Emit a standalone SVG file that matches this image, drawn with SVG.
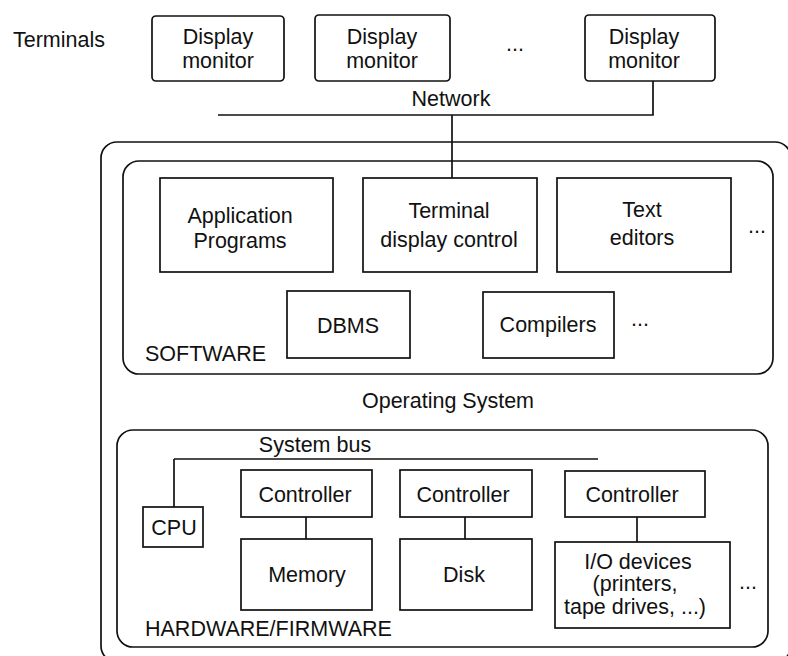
<svg xmlns="http://www.w3.org/2000/svg" width="788" height="656" viewBox="0 0 788 656">
  <style>
    .box { fill: none; stroke: #111; stroke-width: 1.7; }
    .wire { fill: none; stroke: #111; stroke-width: 1.7; }
    .t { font-family: "Liberation Sans", Arial, sans-serif; font-size: 21.5px; fill: #111; text-anchor: middle; }
    .l { text-anchor: start; }
  </style>
  <rect width="788" height="656" fill="#fff"/>

  <!-- terminals row -->
  <text class="t l" x="13" y="47">Terminals</text>
  <g id="display1">
    <rect class="box" x="152" y="16" width="132" height="65" rx="4"/>
    <text class="t" x="218" y="44">Display</text>
    <text class="t" x="218" y="68">monitor</text>
  </g>
  <g id="display2">
    <rect class="box" x="315" y="15" width="135" height="66" rx="4"/>
    <text class="t" x="382" y="44">Display</text>
    <text class="t" x="382" y="68">monitor</text>
  </g>
  <text class="t" x="515" y="51">...</text>
  <g id="display3">
    <rect class="box" x="585" y="15" width="130" height="66" rx="4"/>
    <text class="t" x="644" y="44">Display</text>
    <text class="t" x="644" y="68">monitor</text>
  </g>
  <g id="network">
    <text class="t" x="451" y="106">Network</text>
  </g>

  <!-- operating system enclosure -->
  <g id="operating-system">
    <rect class="box" x="101" y="142" width="690" height="520" rx="16"/>
    <text class="t" x="448" y="408">Operating System</text>
  </g>

  <!-- software layer -->
  <g id="software">
    <rect class="box" x="123" y="161" width="650" height="213" rx="16"/>
    <text class="t l" x="145" y="361">SOFTWARE</text>
  </g>
  <g id="application-programs">
    <rect class="box" x="160" y="178" width="173" height="94"/>
    <text class="t" x="240" y="223">Application</text>
    <text class="t" x="240" y="248">Programs</text>
  </g>
  <g id="terminal-display-control">
    <rect class="box" x="363" y="178" width="174" height="94"/>
    <text class="t" x="449" y="218">Terminal</text>
    <text class="t" x="449" y="247">display control</text>
  </g>
  <g id="text-editors">
    <rect class="box" x="557" y="178" width="174" height="94"/>
    <text class="t" x="642" y="217">Text</text>
    <text class="t" x="642" y="245">editors</text>
  </g>
  <text class="t" x="757" y="233">...</text>
  <g id="dbms">
    <rect class="box" x="287" y="291" width="123" height="67"/>
    <text class="t" x="348" y="333">DBMS</text>
  </g>
  <g id="compilers">
    <rect class="box" x="483" y="292" width="131" height="66"/>
    <text class="t" x="548" y="332">Compilers</text>
  </g>
  <text class="t" x="640" y="326">...</text>

  <!-- hardware layer -->
  <g id="hardware">
    <rect class="box" x="117" y="430" width="651" height="217" rx="16"/>
    <text class="t l" x="145" y="636">HARDWARE/FIRMWARE</text>
  </g>
  <g id="system-bus">
    <text class="t" x="315" y="452">System bus</text>
  </g>
  <g id="cpu">
    <rect class="box" x="143" y="507" width="60" height="40"/>
    <text class="t" x="174" y="535">CPU</text>
  </g>
  <g id="controller-memory">
    <rect class="box" x="241" y="470" width="131" height="47"/>
    <text class="t" x="305" y="502">Controller</text>
  </g>
  <g id="memory">
    <rect class="box" x="241" y="539" width="131" height="71"/>
    <text class="t" x="307" y="582">Memory</text>
  </g>
  <g id="controller-disk">
    <rect class="box" x="400" y="470" width="132" height="47"/>
    <text class="t" x="463" y="502">Controller</text>
  </g>
  <g id="disk">
    <rect class="box" x="400" y="539" width="132" height="71"/>
    <text class="t" x="464" y="582">Disk</text>
  </g>
  <g id="controller-io">
    <rect class="box" x="565" y="471" width="140" height="46"/>
    <text class="t" x="632" y="502">Controller</text>
  </g>
  <g id="io-devices">
    <rect class="box" x="555" y="542" width="175" height="86"/>
    <text class="t" x="638" y="569">I/O devices</text>
    <text class="t" x="635" y="591">(printers,</text>
    <text class="t" x="635" y="614" textLength="142" lengthAdjust="spacingAndGlyphs">tape drives, ...)</text>
  </g>
  <text class="t" x="748" y="589">...</text>

  <!-- connectors -->
  <g id="connectors">
    <polyline class="wire" points="218,115 653,115 653,81"/>
    <line class="wire" x1="452" y1="115" x2="452" y2="178"/>
    <line class="wire" x1="174" y1="459" x2="598" y2="459"/>
    <line class="wire" x1="174" y1="459" x2="174" y2="507"/>
    <line class="wire" x1="306" y1="517" x2="306" y2="539"/>
    <line class="wire" x1="465" y1="517" x2="465" y2="539"/>
    <line class="wire" x1="637" y1="517" x2="637" y2="542"/>
  </g>
</svg>
